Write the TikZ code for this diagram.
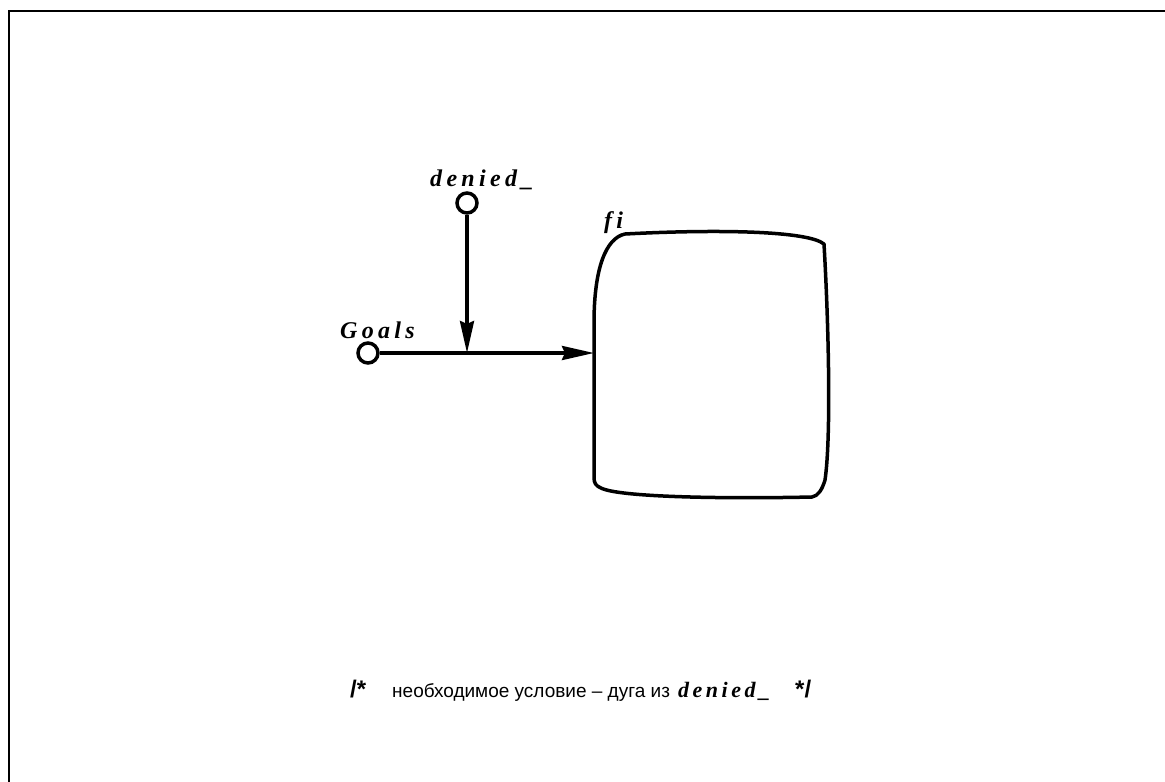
\documentclass[tikz,border=0pt]{standalone}
\usepackage{fontspec}
\usetikzlibrary{arrows.meta}
\setmainfont{Liberation Serif}
\newfontfamily\lblfont{Liberation Serif}[LetterSpace=18]
\newfontfamily\caplblfont{Liberation Serif}[LetterSpace=16]
\newfontfamily\capfont{Liberation Sans}
\begin{document}
\begin{tikzpicture}[x=1pt,y=-1pt,
  wire/.style={line width=3.5pt},
  port/.style={circle,draw,line width=3.5pt,fill=white,minimum size=20pt,inner sep=0pt},
  arr/.style={-{Stealth[length=32pt,width=14pt,inset=3pt]}},
  lbl/.style={font=\lblfont\fontsize{24}{26}\selectfont\bfseries\itshape,inner sep=0pt,anchor=base west},
  captext/.style={font=\capfont\fontsize{19}{24}\selectfont,inner sep=0pt,anchor=base west},
  capmark/.style={captext,font=\capfont\fontsize{24}{26}\selectfont\bfseries}]
\useasboundingbox (0,0) rectangle (1165,782);
\fill[white] (0,0) rectangle (1165,782);
\draw[line width=2pt] (9,782) -- (9,11) -- (1165,11);
% box fi
\draw[line width=3.5pt,line join=round]
  (594,478) -- (594,323)
  .. controls (594,268) and (606,238) .. (625,234)
  .. controls (720,229) and (808,231) .. (824,244)
  .. controls (829,330) and (831,440) .. (825,480)
  .. controls (822,490) and (818,496) .. (812,497)
  .. controls (720,499) and (618,497) .. (601,488)
  .. controls (596,486) and (594,483) .. (594,478) -- cycle;
\coordinate (fiW) at (594,353);
\coordinate (junc) at (467,353);
\node[port] (goals) at (368,353) {};
\node[port] (denied) at (467,203) {};
\draw[wire,arr] (goals) -- (fiW);
\draw[wire,arr] (denied) -- (junc);
\node[lbl] (ldenied) at (430,186) {denied\_};
\node[lbl] (lgoals) at (340,338) {Goals};
\node[lbl] (lfi) at (604,228) {fi};
% caption
\node[capmark] (c1) at (350,697) {/*};
\node[captext] (c2) at (392,697) {необходимое условие – дуга из};
\node[captext,font=\caplblfont\fontsize{22}{24}\selectfont\bfseries\itshape] (c3) at (678,697) {denied\_};
\node[capmark] (c4) at (795,697) {*/};
\end{tikzpicture}
\end{document}
